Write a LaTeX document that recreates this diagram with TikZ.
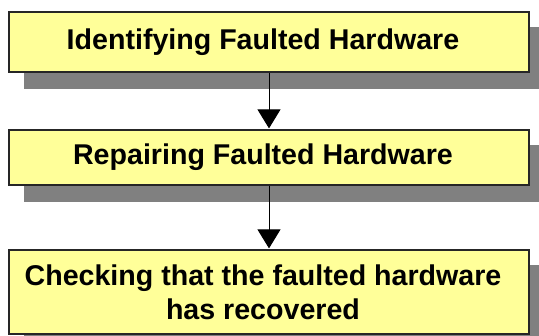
\documentclass[tikz,border=0pt]{standalone}
\usepackage{fontspec}
\setmainfont{Liberation Sans}
\usetikzlibrary{arrows.meta,backgrounds}
\definecolor{boxfill}{HTML}{FFFF99}
\definecolor{shadowgray}{HTML}{808080}
\tikzset{
  stepbox/.style={draw=black!85, line width=1.2pt, fill=boxfill, minimum width=520pt, inner sep=0pt},
  steptext/.style={align=center, font=\fontsize{28.6}{34}\selectfont\bfseries, inner sep=0pt},
  flowarrow/.style={draw=black, line width=1pt, -{Triangle[width=23pt,length=19pt]}, shorten >=1pt},
}
\begin{document}
\begin{tikzpicture}[x=1pt,y=1pt]
\useasboundingbox (0,0) rectangle (539,336);
\clip (0,0) rectangle (539,336);
\node[stepbox, minimum height=60pt] (b1) at (269,294) {};
\node[stepbox, minimum height=55pt] (b2) at (269,178.5) {};
\node[stepbox, minimum height=84pt] (b3) at (269,44) {};
\node[steptext] (t1) at ([xshift=-6pt]b1.center) {Identifying Faulted Hardware};
\node[steptext] (t2) at ([xshift=-6pt]b2.center) {Repairing Faulted Hardware};
\node[steptext] (t3) at ([xshift=-6pt]b3.center) {Checking that the faulted hardware\\has recovered};
\begin{scope}[on background layer]
  \foreach \b in {b1,b2,b3}{
    \fill[shadowgray] ([shift={(16pt,-16pt)}]\b.south west) rectangle ([shift={(16pt,-16pt)}]\b.north east);
  }
\end{scope}
\draw[flowarrow] (b1.south) -- (b2.north);
\draw[flowarrow] (b2.south) -- (b3.north);
\end{tikzpicture}
\end{document}
